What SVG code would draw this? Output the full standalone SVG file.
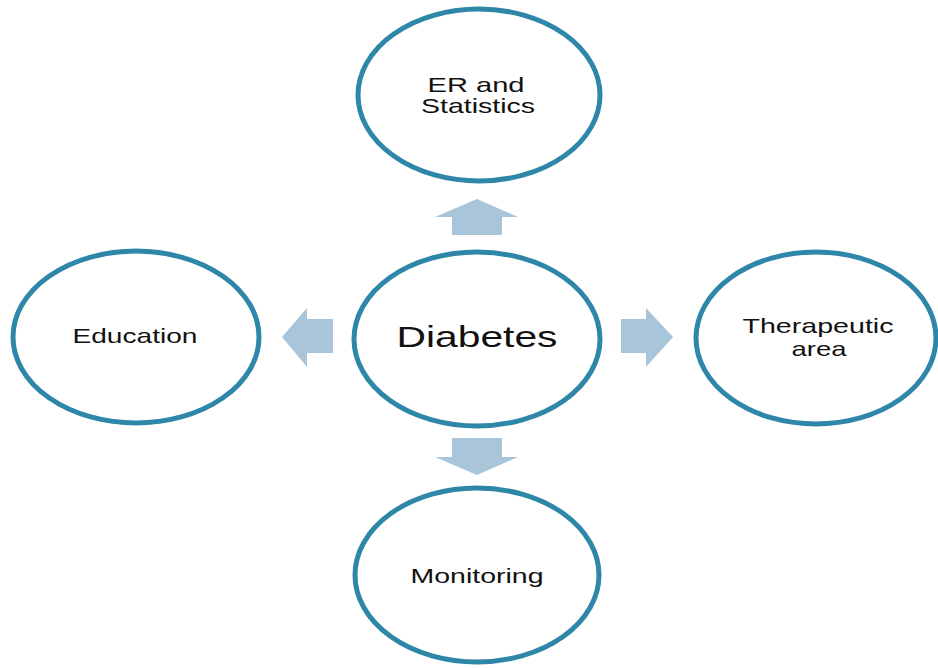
<svg xmlns="http://www.w3.org/2000/svg" width="938" height="668" viewBox="0 0 938 668">
  <style>
    .node ellipse { fill: #ffffff; stroke: #2e86a8; stroke-width: 5; }
    .label { font-family: "Liberation Sans", Arial, sans-serif; font-size: 21px; fill: #111111; text-anchor: middle; }
    .big { font-size: 30px; }
    .arrow { fill: #a9c5da; }
  </style>
  <rect width="938" height="668" fill="#ffffff"/>

  <g id="connectors">
    <!-- up -->
    <polygon class="arrow" points="477,199 518,217 502,217 502,235 452,235 452,217 435,217"/>
    <!-- down -->
    <polygon class="arrow" points="452,438 502,438 502,457 518,457 477,475 435,457 452,457"/>
    <!-- left -->
    <polygon class="arrow" points="282,337 307,308 307,319 333,319 333,353 307,353 307,367"/>
    <!-- right -->
    <polygon class="arrow" points="621,319 646,319 646,308 673,337 646,367 646,353 621,353"/>
  </g>

  <g id="node-er-statistics" class="node">
    <ellipse cx="479" cy="95" rx="121" ry="86"/>
    <text class="label" x="476" y="92" textLength="97" lengthAdjust="spacingAndGlyphs">ER and</text>
    <text class="label" x="478" y="113" textLength="114" lengthAdjust="spacingAndGlyphs">Statistics</text>
  </g>

  <g id="node-diabetes" class="node">
    <ellipse cx="477" cy="339" rx="123" ry="87"/>
    <text class="label big" x="477" y="347" textLength="161" lengthAdjust="spacingAndGlyphs">Diabetes</text>
  </g>

  <g id="node-education" class="node">
    <ellipse cx="136" cy="337" rx="123" ry="86"/>
    <text class="label" x="135" y="343" textLength="125" lengthAdjust="spacingAndGlyphs">Education</text>
  </g>

  <g id="node-therapeutic-area" class="node">
    <ellipse cx="816" cy="338" rx="120" ry="86"/>
    <text class="label" x="818" y="333" textLength="151" lengthAdjust="spacingAndGlyphs">Therapeutic</text>
    <text class="label" x="819" y="356" textLength="55" lengthAdjust="spacingAndGlyphs">area</text>
  </g>

  <g id="node-monitoring" class="node">
    <ellipse cx="477" cy="575" rx="122" ry="87"/>
    <text class="label" x="477" y="583" textLength="133" lengthAdjust="spacingAndGlyphs">Monitoring</text>
  </g>
</svg>
